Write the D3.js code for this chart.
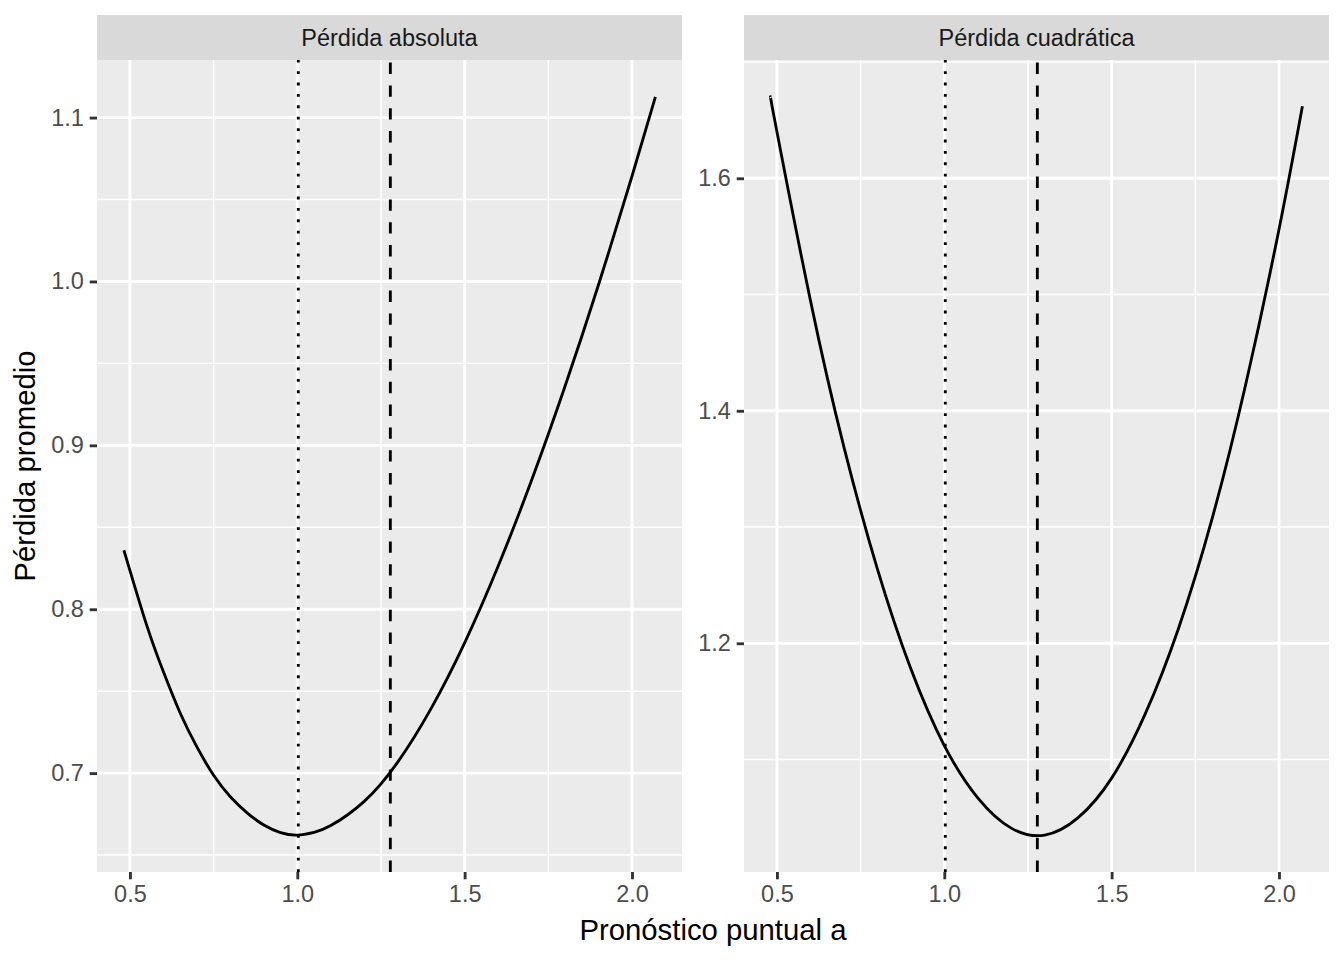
<!DOCTYPE html>
<html>
<head>
<meta charset="utf-8">
<script src="https://cdn.jsdelivr.net/npm/d3@7"></script>
<style>
  body { margin: 0; background: #ffffff; }
  text { font-family: "Liberation Sans", Arial, sans-serif; }
</style>
</head>
<body>
<svg id="chart" width="1344" height="960"></svg>
<script>
// Panel titles
const panelNames = ["Pérdida absoluta", "Pérdida cuadrática"];

// Pérdida absoluta: pronóstico a vs pérdida promedio
const absA    = [0.482, 0.55, 0.60, 0.65, 0.70, 0.75, 0.80, 0.85, 0.90, 0.95, 1.00, 1.05, 1.10, 1.20, 1.30, 1.40, 1.50, 1.60, 1.70, 1.80, 1.90, 2.00, 2.07];
const absLoss = [0.8360, 0.7903, 0.7618, 0.7367, 0.7160, 0.6987, 0.6856, 0.6758, 0.6683, 0.6637, 0.6622, 0.6639, 0.6680, 0.6828, 0.7067, 0.7395, 0.7795, 0.8262, 0.8787, 0.9361, 0.9980, 1.0642, 1.1126];

// Pérdida cuadrática
const sqA    = [0.481, 0.50, 0.60, 0.70, 0.80, 0.90, 1.00, 1.10, 1.20, 1.30, 1.40, 1.50, 1.60, 1.70, 1.80, 1.90, 2.00, 2.07];
const sqLoss = [1.670, 1.640, 1.495, 1.369, 1.264, 1.178, 1.112, 1.067, 1.041, 1.035, 1.050, 1.084, 1.139, 1.213, 1.307, 1.422, 1.556, 1.662];

// Reference lines: mediana (punteada) y media (discontinua)
const medianA = 1.003;
const meanA = 1.278;

// Ticks
const xTicks = [0.5, 1.0, 1.5, 2.0];
const xMinor = [0.75, 1.25, 1.75];
const yTicksAbs = [0.7, 0.8, 0.9, 1.0, 1.1];
const yMinorAbs = [0.65, 0.75, 0.85, 0.95, 1.05];
const yTicksSq = [1.2, 1.4, 1.6];
const yMinorSq = [1.1, 1.3, 1.5, 1.7];

// Layout (ggplot2 theme_gray at 192 dpi)
const panelTop = 60, panelBottom = 872, stripH = 45;
const panelLefts = [97, 744], panelW = 585;
const lineW = 2.85, tickLen = 7.3, tickPad = 5.9;
const fontSmall = 23.5, fontTitle = 29.3;

const svg = d3.select("#chart");

// ggplot-style 5% expansion of the data range
const expand = ext => {
    const d = (ext[1] - ext[0]) * 0.05;
    return [ext[0] - d, ext[1] + d];
};

const xDomain = expand(d3.extent(absA.concat(sqA, [medianA, meanA])));

const panels = [
    { name: panelNames[0], xs: absA, ys: absLoss, yTicks: yTicksAbs, yMinor: yMinorAbs },
    { name: panelNames[1], xs: sqA, ys: sqLoss, yTicks: yTicksSq, yMinor: yMinorSq }
];

const fmt = d3.format(".1f");

panels.forEach((p, i) => {
    const left = panelLefts[i];
    const x = d3.scaleLinear().domain(xDomain).range([left, left + panelW]);
    const y = d3.scaleLinear().domain(expand(d3.extent(p.ys))).range([panelBottom, panelTop]);

    const clipId = "clip" + i;
    svg.append("clipPath").attr("id", clipId)
        .append("rect")
        .attr("x", left).attr("y", panelTop)
        .attr("width", panelW).attr("height", panelBottom - panelTop);

    // Panel background
    svg.append("rect")
        .attr("x", left).attr("y", panelTop)
        .attr("width", panelW).attr("height", panelBottom - panelTop)
        .attr("fill", "#EBEBEB");

    const g = svg.append("g").attr("clip-path", `url(#${clipId})`);

    // Minor gridlines
    g.selectAll(".xminor").data(xMinor).join("line")
        .attr("x1", d => x(d)).attr("x2", d => x(d))
        .attr("y1", panelTop).attr("y2", panelBottom)
        .attr("stroke", "#ffffff").attr("stroke-width", lineW / 2);
    g.selectAll(".yminor").data(p.yMinor).join("line")
        .attr("x1", left).attr("x2", left + panelW)
        .attr("y1", d => y(d)).attr("y2", d => y(d))
        .attr("stroke", "#ffffff").attr("stroke-width", lineW / 2);

    // Major gridlines
    g.selectAll(".xmajor").data(xTicks).join("line")
        .attr("x1", d => x(d)).attr("x2", d => x(d))
        .attr("y1", panelTop).attr("y2", panelBottom)
        .attr("stroke", "#ffffff").attr("stroke-width", lineW);
    g.selectAll(".ymajor").data(p.yTicks).join("line")
        .attr("x1", left).attr("x2", left + panelW)
        .attr("y1", d => y(d)).attr("y2", d => y(d))
        .attr("stroke", "#ffffff").attr("stroke-width", lineW);

    // Loss curve
    const line = d3.line()
        .x(d => x(d[0]))
        .y(d => y(d[1]))
        .curve(d3.curveNatural);
    g.append("path")
        .datum(d3.zip(p.xs, p.ys))
        .attr("d", line)
        .attr("fill", "none")
        .attr("stroke", "#000000")
        .attr("stroke-width", lineW)
        .attr("stroke-linejoin", "round");

    // Vertical reference lines (drawn bottom to top)
    g.append("line")
        .attr("x1", x(medianA)).attr("x2", x(medianA))
        .attr("y1", panelBottom).attr("y2", panelTop)
        .attr("stroke", "#000000").attr("stroke-width", lineW)
        .attr("stroke-dasharray", `${lineW} ${lineW * 3}`);
    g.append("line")
        .attr("x1", x(meanA)).attr("x2", x(meanA))
        .attr("y1", panelBottom).attr("y2", panelTop)
        .attr("stroke", "#000000").attr("stroke-width", lineW)
        .attr("stroke-dasharray", `${lineW * 4} ${lineW * 4}`);

    // Strip
    svg.append("rect")
        .attr("x", left).attr("y", panelTop - stripH)
        .attr("width", panelW).attr("height", stripH)
        .attr("fill", "#D9D9D9");
    svg.append("text")
        .attr("x", left + panelW / 2)
        .attr("y", panelTop - stripH / 2)
        .attr("dy", "0.36em")
        .attr("text-anchor", "middle")
        .attr("fill", "#1A1A1A")
        .attr("font-size", fontSmall)
        .text(p.name);

    // Axes
    const xAxis = svg.append("g")
        .attr("transform", `translate(0,${panelBottom})`)
        .call(d3.axisBottom(x).tickValues(xTicks).tickFormat(fmt)
            .tickSize(tickLen).tickSizeOuter(0).tickPadding(tickPad));
    const yAxis = svg.append("g")
        .attr("transform", `translate(${left},0)`)
        .call(d3.axisLeft(y).tickValues(p.yTicks).tickFormat(fmt)
            .tickSize(tickLen).tickSizeOuter(0).tickPadding(tickPad));

    [xAxis, yAxis].forEach(a => {
        a.select(".domain").remove();
        a.selectAll(".tick line").attr("stroke", "#333333").attr("stroke-width", lineW);
        a.selectAll(".tick text")
            .attr("fill", "#4D4D4D")
            .attr("font-size", fontSmall)
            .attr("font-family", "Liberation Sans, Arial, sans-serif");
    });
});

// Axis titles
svg.append("text")
    .attr("x", (panelLefts[0] + panelLefts[1] + panelW) / 2)
    .attr("y", 940)
    .attr("text-anchor", "middle")
    .attr("fill", "#000000")
    .attr("font-size", fontTitle)
    .text("Pronóstico puntual a");

svg.append("text")
    .attr("transform", `translate(35,${(panelTop + panelBottom) / 2}) rotate(-90)`)
    .attr("text-anchor", "middle")
    .attr("fill", "#000000")
    .attr("font-size", fontTitle)
    .text("Pérdida promedio");
</script>
</body>
</html>
